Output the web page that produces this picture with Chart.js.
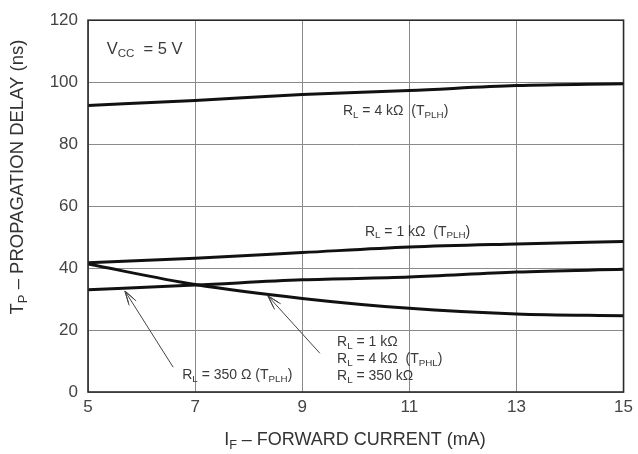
<!DOCTYPE html>
<html>
<head>
<meta charset="utf-8">
<script src="https://cdn.jsdelivr.net/npm/chart.js@4.4.0/dist/chart.umd.min.js"></script>
<style>
  html, body { margin: 0; padding: 0; background: #fff; }
</style>
</head>
<body>
<canvas id="chart" width="638" height="454"></canvas>
<script>
// forward current (mA)
const current = [5, 7, 9, 11, 13, 15];
// propagation delay (ns) per curve
const rl4kPLH = [92.5, 94.1, 96.0, 97.3, 98.9, 99.5];
const rl1kPLH = [41.7, 43.2, 45.0, 46.8, 47.8, 48.6];
const rl350PLH = [33.0, 34.5, 36.2, 37.1, 38.7, 39.6];
const allPHL = [41.3, 34.7, 30.2, 27.0, 25.2, 24.6];

const xTicks = [5, 7, 9, 11, 13, 15];
const yTicks = [0, 20, 40, 60, 80, 100, 120];

// text notes, placed in data units
const notes = [
  { text: 'V_{CC}  = 5 V', x: 5.35, y: 110.5, size: 16.5 },
  { text: 'R_{L} = 4 kΩ  (T_{PLH})', x: 9.76, y: 90.5, size: 14 },
  { text: 'R_{L} = 1 kΩ  (T_{PLH})', x: 10.17, y: 51.7, size: 14 },
  { text: 'R_{L} = 350 Ω (T_{PLH})', x: 6.76, y: 5.4, size: 14 },
  { text: 'R_{L} = 1 kΩ', x: 9.65, y: 16.0, size: 14 },
  { text: 'R_{L} = 4 kΩ  (T_{PHL})', x: 9.65, y: 10.6, size: 14 },
  { text: 'R_{L} = 350 kΩ', x: 9.65, y: 5.2, size: 14 }
];
const arrows = [
  { from: [6.59, 8.0], to: [5.69, 32.6] },
  { from: [9.33, 12.5], to: [8.36, 31.0] }
];

const FONT = '"Liberation Sans", Arial, Helvetica, sans-serif';

function toPoints(ys) {
  return current.map((x, i) => ({ x: x, y: ys[i] }));
}

// draws text with _{...} subscripts, vertically centred on y
function drawRich(ctx, str, x, y, size, align) {
  const parts = [];
  const re = /_\{([^}]*)\}/g;
  let last = 0, m;
  while ((m = re.exec(str)) !== null) {
    if (m.index > last) parts.push({ t: str.slice(last, m.index), sub: false });
    parts.push({ t: m[1], sub: true });
    last = re.lastIndex;
  }
  if (last < str.length) parts.push({ t: str.slice(last), sub: false });

  const subSize = size * 0.7;
  let total = 0;
  parts.forEach(p => {
    ctx.font = (p.sub ? subSize : size) + 'px ' + FONT;
    p.w = ctx.measureText(p.t).width;
    total += p.w;
  });
  let cx = x;
  if (align === 'center') cx = x - total / 2;
  else if (align === 'right') cx = x - total;
  ctx.textBaseline = 'middle';
  ctx.textAlign = 'left';
  parts.forEach(p => {
    ctx.font = (p.sub ? subSize : size) + 'px ' + FONT;
    ctx.fillText(p.t, cx, p.sub ? y + size * 0.28 : y);
    cx += p.w;
  });
}

const decor = {
  id: 'decor',
  afterDraw(chart) {
    const ctx = chart.ctx;
    const a = chart.chartArea;
    const xs = chart.scales.x, ys = chart.scales.y;
    ctx.save();

    // plot frame
    ctx.strokeStyle = '#2a2a2a';
    ctx.lineWidth = 1.6;
    ctx.strokeRect(a.left, a.top, a.right - a.left, a.bottom - a.top);

    ctx.fillStyle = '#3a3a3a';
    notes.forEach(n => {
      drawRich(ctx, n.text, xs.getPixelForValue(n.x), ys.getPixelForValue(n.y), n.size, 'left');
    });

    // arrows
    ctx.strokeStyle = '#444';
    ctx.lineWidth = 1;
    arrows.forEach(ar => {
      const x0 = xs.getPixelForValue(ar.from[0]), y0 = ys.getPixelForValue(ar.from[1]);
      const x1 = xs.getPixelForValue(ar.to[0]), y1 = ys.getPixelForValue(ar.to[1]);
      ctx.beginPath();
      ctx.moveTo(x0, y0);
      ctx.lineTo(x1, y1);
      ctx.stroke();
      const ang = Math.atan2(y0 - y1, x0 - x1);
      [0.28, -0.28].forEach(d => {
        [15, 12].forEach(len => {
          ctx.beginPath();
          ctx.moveTo(x1, y1);
          ctx.lineTo(x1 + len * Math.cos(ang + d), y1 + len * Math.sin(ang + d));
          ctx.stroke();
        });
      });
    });

    // axis titles
    ctx.fillStyle = '#333';
    drawRich(ctx, 'I_{F} – FORWARD CURRENT (mA)', 355, 440, 18, 'center');
    ctx.translate(18, 177);
    ctx.rotate(-Math.PI / 2);
    drawRich(ctx, 'T_{P} – PROPAGATION DELAY (ns)', 0, 0, 18.5, 'center');
    ctx.restore();
  }
};

function line(ys) {
  return {
    data: toPoints(ys),
    borderColor: '#111',
    borderWidth: 3,
    pointRadius: 0,
    fill: false,
    cubicInterpolationMode: 'monotone'
  };
}

new Chart(document.getElementById('chart'), {
  type: 'line',
  data: {
    datasets: [line(rl4kPLH), line(rl1kPLH), line(rl350PLH), line(allPHL)]
  },
  options: {
    responsive: false,
    animation: false,
    layout: { padding: { top: 17, right: 14, left: 0, bottom: 0 } },
    plugins: { legend: { display: false }, tooltip: { enabled: false } },
    scales: {
      x: {
        type: 'linear',
        min: 5,
        max: 15,
        afterBuildTicks: s => { s.ticks = xTicks.map(v => ({ value: v })); },
        afterFit: s => { s.height = 62; },
        grid: { color: '#8a8a8a', lineWidth: 1, drawTicks: false },
        border: { display: false },
        ticks: { color: '#444', font: { family: FONT, size: 17 }, padding: 5 }
      },
      y: {
        min: 0,
        max: 120,
        afterBuildTicks: s => { s.ticks = yTicks.map(v => ({ value: v })); },
        afterFit: s => { s.width = 88; },
        grid: { color: '#8a8a8a', lineWidth: 1, drawTicks: false },
        border: { display: false },
        ticks: { color: '#444', font: { family: FONT, size: 17 }, padding: 10 }
      }
    }
  },
  plugins: [decor]
});
</script>
</body>
</html>
